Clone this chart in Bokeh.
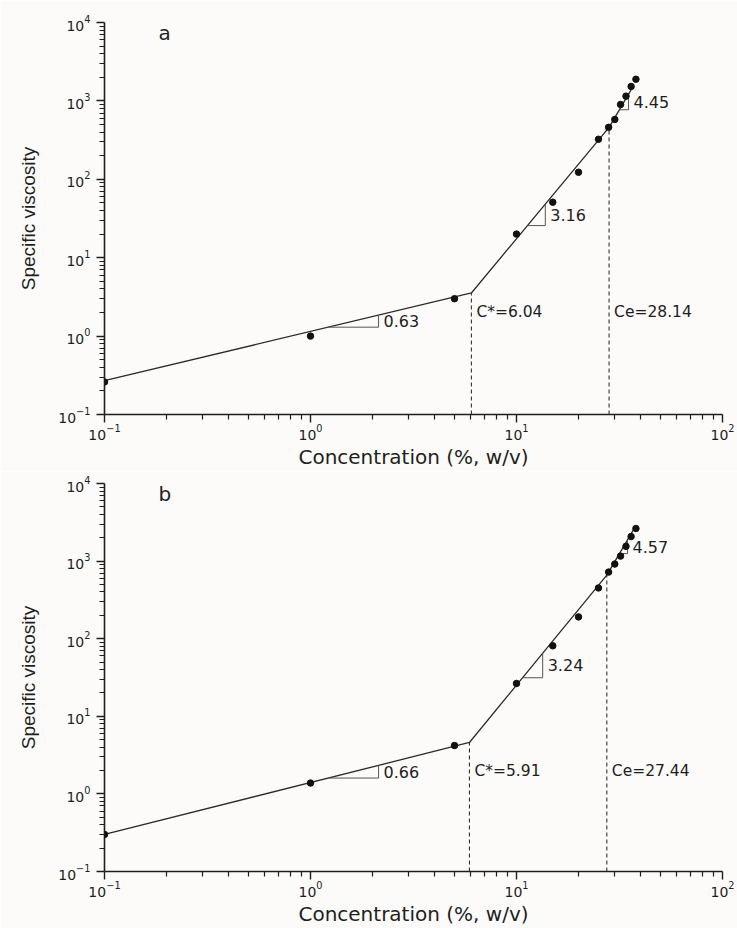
import numpy as np
from bokeh.plotting import figure
from bokeh.models import Range1d, Label, FixedTicker
from bokeh.layouts import column
from bokeh.embed import file_html
from bokeh.resources import INLINE

# ---------------- data ----------------
conc = [0.1, 1, 5, 10, 15, 20, 25, 28, 30, 32, 34, 36, 38]
visc_a = [0.26, 1.0, 3.0, 20, 51, 123, 324, 460, 580, 900, 1150, 1530, 1890]
visc_b = [0.30, 1.38, 4.2, 26.5, 81, 191, 451, 722, 916, 1160, 1550, 2070, 2630]

# fitted broken power-law lines (break points C* and Ce)
fit_a_x = [0.1, 6.04, 28.14, 36]
fit_a_y = [0.27, 3.55, 459, 1380]
fit_b_x = [0.1, 5.91, 27.44, 37]
fit_b_y = [0.30, 4.6, 660, 2550]

slopes_a = ["0.63", "3.16", "4.45"]
slopes_b = ["0.66", "3.24", "4.57"]
# x extent of each slope triangle
tri_a = [(1.22, 2.14), (11.3, 13.8), (31.6, 35.0)]
tri_b = [(1.22, 2.14), (10.7, 13.4), (31.6, 34.6)]

panel_letters = ["a", "b"]
x_title = "Concentration (%, w/v)"
y_title = "Specific viscosity"

BG = "#fcfbf9"
INK = "#1e1e1e"


def on_line(fx, fy, x):
    return float(10 ** np.interp(np.log10(x), np.log10(fx), np.log10(fy)))


def make_panel(visc, fx, fy, slopes, tris, letter, height, top, bottom):
    p = figure(width=737, height=height, x_axis_type="log", y_axis_type="log",
               x_range=Range1d(0.1, 100), y_range=Range1d(0.1, 1e4),
               output_backend="svg", toolbar_location=None,
               min_border_left=104, min_border_right=15,
               min_border_top=top, min_border_bottom=bottom,
               background_fill_color=BG, border_fill_color=BG,
               outline_line_color=None)
    p.grid.visible = False

    majors = [10.0 ** k for k in range(-1, 5)]
    minors = [m * 10.0 ** k for k in range(-1, 4) for m in range(2, 10)]
    p.xaxis.ticker = FixedTicker(ticks=majors[:4], minor_ticks=[v for v in minors if v < 100])
    p.yaxis.ticker = FixedTicker(ticks=majors, minor_ticks=minors)

    for ax in (p.xaxis[0], p.yaxis[0]):
        ax.axis_line_color = INK
        ax.axis_line_width = 1.6
        ax.major_tick_line_color = INK
        ax.major_tick_line_width = 1.4
        ax.minor_tick_line_color = INK
        ax.minor_tick_line_width = 1.2
        ax.major_tick_in = 0
        ax.major_tick_out = 8
        ax.minor_tick_in = 0
        ax.minor_tick_out = 5
        ax.major_label_text_font = "DejaVu Sans"
        ax.major_label_text_font_size = "14px"
        ax.major_label_text_color = INK
        ax.axis_label_text_font_style = "normal"
        ax.axis_label_text_color = INK

    p.xaxis.major_label_standoff = 1
    p.xaxis.axis_label = x_title
    p.xaxis.axis_label_text_font = "DejaVu Sans"
    p.xaxis.axis_label_text_font_size = "20px"
    p.xaxis.axis_label_standoff = 2

    p.yaxis.major_label_standoff = 6
    p.yaxis.axis_label = y_title
    p.yaxis.axis_label_text_font = "Liberation Sans"
    p.yaxis.axis_label_text_font_size = "19px"
    p.yaxis.axis_label_standoff = 16

    # dashed verticals at C* and Ce
    cstar, ce = fx[1], fx[2]
    p.segment(x0=[cstar, ce], y0=[0.1, 0.1], x1=[cstar, ce], y1=[fy[1], fy[2]],
              line_color="#333333", line_width=1.1, line_dash="4 3")

    # fitted line
    p.line(fx, fy, line_color="#2b2b2b", line_width=1.3)

    # slope triangles
    for (x0, x1), s in zip(tris, slopes):
        y0 = on_line(fx, fy, x0)
        y1 = on_line(fx, fy, x1)
        p.line([x0, x1, x1], [y0, y0, y1], line_color="#555555", line_width=1.0)
        p.add_layout(Label(x=x1, y=float(np.sqrt(y0 * y1)), text=s, x_offset=5,
                           text_baseline="middle", text_align="left",
                           text_font="DejaVu Sans", text_font_size="16px",
                           text_color=INK))

    # data points
    p.scatter(conc, visc, size=6.5, color="#111111")

    # C* / Ce labels
    p.add_layout(Label(x=cstar, y=2.0, text="C*=%.2f" % cstar, x_offset=5,
                       text_baseline="middle", text_font="DejaVu Sans",
                       text_font_size="15.5px", text_color=INK))
    p.add_layout(Label(x=ce, y=2.0, text="Ce=%.2f" % ce, x_offset=5,
                       text_baseline="middle", text_font="DejaVu Sans",
                       text_font_size="15.5px", text_color=INK))

    # panel letter
    p.add_layout(Label(x=0.183, y=10 ** 3.87, text=letter,
                       text_baseline="middle", text_font="DejaVu Sans",
                       text_font_size="20px", text_color=INK))
    return p


pa = make_panel(visc_a, fit_a_x, fit_a_y, slopes_a, tri_a, panel_letters[0], 471, 22, 57)
pb = make_panel(visc_b, fit_b_x, fit_b_y, slopes_b, tri_b, panel_letters[1], 457, 12, 57)

layout = column(pa, pb, spacing=0)
open("out.html", "w").write(file_html(layout, INLINE))
